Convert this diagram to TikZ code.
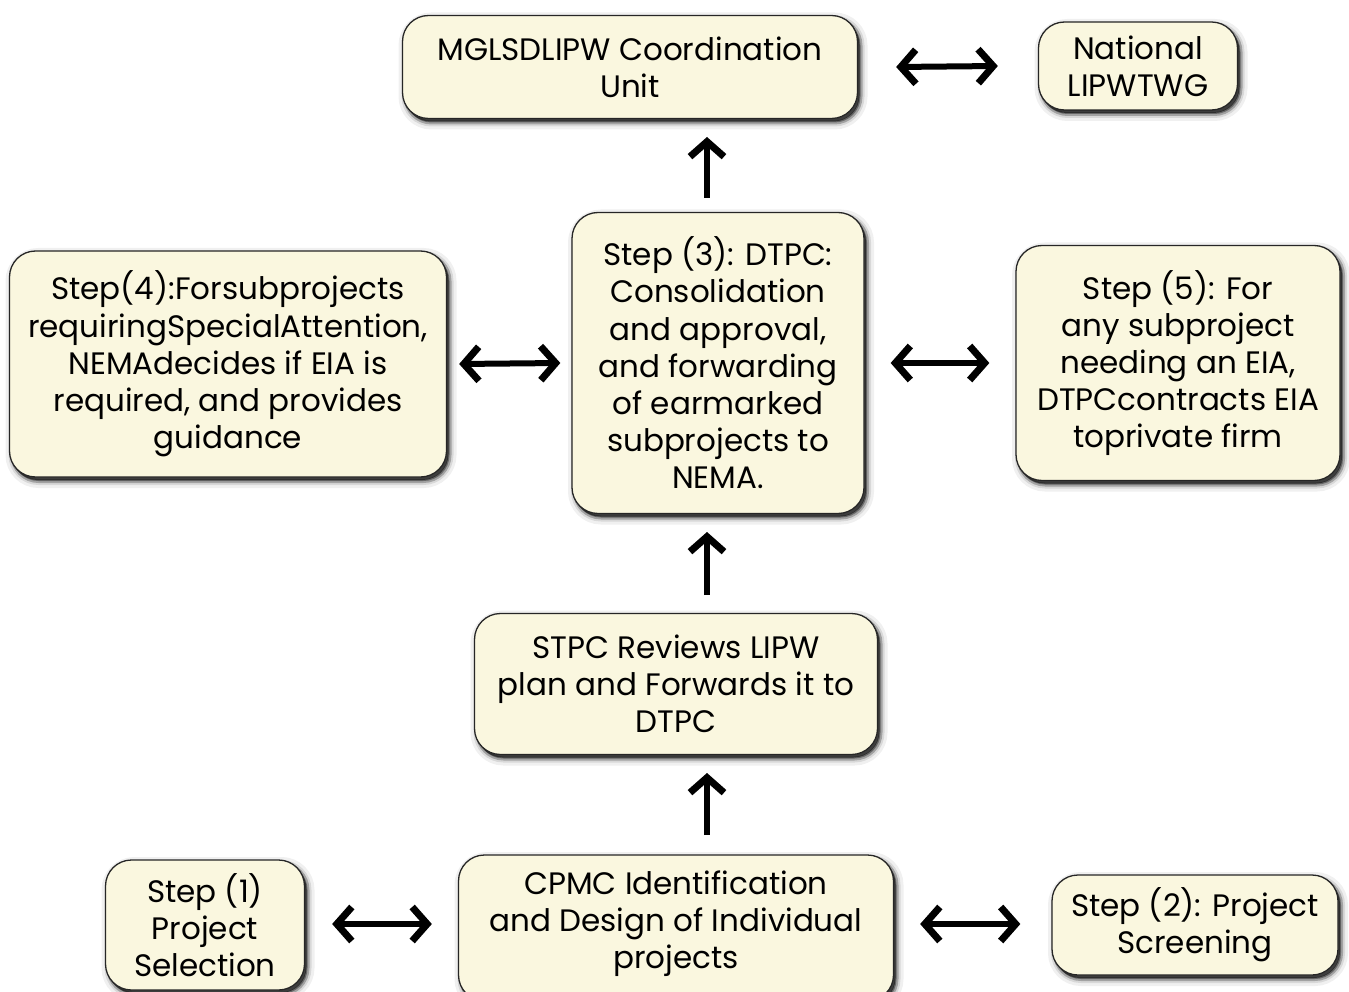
\documentclass[tikz,border=0pt]{standalone}
\usepackage{fontspec}
\setmainfont{Poppins}
\usetikzlibrary{arrows.meta,shadows}
\definecolor{boxfill}{RGB}{250,247,223}
\tikzset{
  blurshadow/.style={
    general shadow={shadow xshift=3pt, shadow yshift=-4pt, fill=black, draw=black, line width=14pt, opacity=0.06},
    general shadow={shadow xshift=3pt, shadow yshift=-4pt, fill=black, draw=black, line width=8pt, opacity=0.1},
    general shadow={shadow xshift=3pt, shadow yshift=-4pt, fill=black, draw=black, line width=4pt, opacity=0.25},
    general shadow={shadow xshift=2pt, shadow yshift=-3pt, fill=black, opacity=0.55}},
  box/.style={blurshadow, draw=black!85, line width=1.3pt, fill=boxfill, rounded corners=26pt,
    align=center, inner sep=0pt, font=\fontsize{31}{37.2}\selectfont},
  tip/.tip={Straight Barb[length=15pt,width=34pt,line width=7pt]},
  link/.style={line width=6pt, tip-tip},
  uplink/.style={line width=6pt, -tip}
}
\begin{document}
\begin{tikzpicture}[x=1pt,y=-1pt]
\useasboundingbox (0,0) rectangle (1349,992);
\node[box, minimum width=455pt, minimum height=103pt] (top) at (630,67) {MGLSDLIPW Coordination\\Unit};
\node[box, minimum width=199pt, minimum height=88pt] (nat) at (1138,66) {National\\LIPWTWG};
\node[box, minimum width=292pt, minimum height=301pt] (s3) at (718,363) {Step (3): DTPC:\\Consolidation\\and approval,\\and forwarding\\of earmarked\\subprojects to\\NEMA.};
\node[box, minimum width=437pt, minimum height=226pt] (s4) at (228,364) {Step(4):Forsubprojects\\requiringSpecialAttention,\\NEMAdecides if EIA is\\required, and provides\\guidance};
\node[box, minimum width=324pt, minimum height=235pt] (s5) at (1178,363) {Step (5): For\\any subproject\\needing an EIA,\\DTPCcontracts EIA\\toprivate firm};
\node[box, minimum width=403pt, minimum height=141pt] (stpc) at (676,684) {STPC Reviews LIPW\\plan and Forwards it to\\DTPC};
\node[box, minimum width=435pt, minimum height=146pt] (cpmc) at (676,928) {CPMC Identification\\and Design of Individual\\projects\rule[-17pt]{0pt}{0pt}};
\node[box, minimum width=199pt, minimum height=130pt] (s1) at (205,925) {Step (1)\\Project\\Selection};
\node[box, minimum width=286pt, minimum height=100pt] (s2) at (1195,925) {Step (2): Project\\Screening};

\coordinate (a1s) at (707,198); \coordinate (a1e) at (707,137);
\coordinate (a2s) at (707,595); \coordinate (a2e) at (707,532);
\coordinate (a3s) at (707,835); \coordinate (a3e) at (707,773);
\draw[uplink] (a1s) -- (a1e);
\draw[uplink] (a2s) -- (a2e);
\draw[uplink] (a3s) -- (a3e);
\draw[link] ([xshift=38pt]top.east) -- ([xshift=-40pt]nat.west);
\draw[link] ([xshift=12pt]s4.east) -- ([xshift=-11pt]s3.west);
\draw[link] ([xshift=26pt]s3.east) -- ([xshift=-26pt]s5.west);
\draw[link] ([xshift=27pt,yshift=1pt]s1.east) -- ([xshift=-26pt,yshift=1pt]cpmc.west |- s1.east);
\draw[link] ([xshift=26pt,yshift=1pt]cpmc.east |- s2.west) -- ([xshift=-31pt,yshift=1pt]s2.west);
\end{tikzpicture}
\end{document}
